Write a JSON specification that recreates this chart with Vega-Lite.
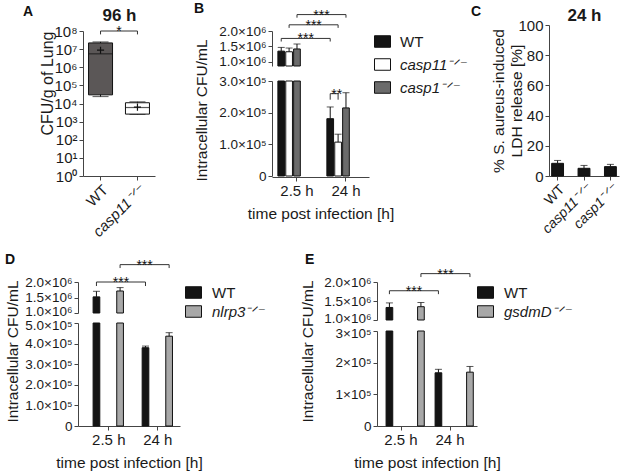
{
  "$schema": "https://vega.github.io/schema/vega-lite/v6.json",
  "padding": {"left": 5, "top": 1, "right": 2, "bottom": 2},
  "config": {
    "font": "Liberation Sans",
    "view": {"stroke": null},
    "axis": {"labelFontSize": 14, "labelColor": "#1a1a1a", "titleFontSize": 15.5, "titleFontWeight": "normal", "titleColor": "#1a1a1a", "domainColor": "#444", "tickColor": "#444", "tickSize": 4, "grid": false, "labelFlush": false, "labelOverlap": false, "labelBound": false, "labelPadding": 2},
    "title": {"fontSize": 14, "fontWeight": "bold", "anchor": "start", "frame": "group", "color": "#111"},
    "legend": {"labelFontSize": 15, "labelColor": "#1a1a1a"}
  },
  "datasets": {
    "boxA": [
      {"g": "WT", "lo": 24000, "q1": 30000, "med": 5500000, "q3": 22000000, "hi": 25000000, "mean": 8700000},
      {"g": "casp11", "lo": 2500, "q1": 2600, "med": 6000, "q3": 11000, "hi": 12400, "mean": 6300}
    ],
    "brkA": [
      {"id": "a", "g": "WT", "y": 65000000, "ord": 0},
      {"id": "a", "g": "WT", "y": 100000000, "ord": 1},
      {"id": "a", "g": "casp11", "y": 100000000, "ord": 2},
      {"id": "a", "g": "casp11", "y": 65000000, "ord": 3}
    ],
    "txtA": [{"g": "WT", "y": 100000000, "label": "*"}],
    "barsB": [
      {"time": "2.5 h", "genotype": "WT", "mean": 1350000, "hi": 1470000},
      {"time": "2.5 h", "genotype": "casp11", "mean": 1330000, "hi": 1450000},
      {"time": "2.5 h", "genotype": "casp1", "mean": 1420000, "hi": 1580000},
      {"time": "24 h", "genotype": "WT", "mean": 181000, "hi": 218000},
      {"time": "24 h", "genotype": "casp11", "mean": 107000, "hi": 132000},
      {"time": "24 h", "genotype": "casp1", "mean": 215000, "hi": 263000}
    ],
    "brkBup": [
      {"id": "b1", "time": "2.5 h", "genotype": "WT", "y": 1660000, "ord": 0},
      {"id": "b1", "time": "2.5 h", "genotype": "WT", "y": 1760000, "ord": 1},
      {"id": "b1", "time": "24 h", "genotype": "WT", "y": 1760000, "ord": 2},
      {"id": "b1", "time": "24 h", "genotype": "WT", "y": 1660000, "ord": 3},
      {"id": "b2", "time": "2.5 h", "genotype": "casp11", "y": 2100000, "ord": 0},
      {"id": "b2", "time": "2.5 h", "genotype": "casp11", "y": 2200000, "ord": 1},
      {"id": "b2", "time": "24 h", "genotype": "casp11", "y": 2200000, "ord": 2},
      {"id": "b2", "time": "24 h", "genotype": "casp11", "y": 2100000, "ord": 3},
      {"id": "b3", "time": "2.5 h", "genotype": "casp1", "y": 2430000, "ord": 0},
      {"id": "b3", "time": "2.5 h", "genotype": "casp1", "y": 2530000, "ord": 1},
      {"id": "b3", "time": "24 h", "genotype": "casp1", "y": 2530000, "ord": 2},
      {"id": "b3", "time": "24 h", "genotype": "casp1", "y": 2430000, "ord": 3}
    ],
    "txtBup": [
      {"time": "2.5 h", "genotype": "WT", "y": 1760000, "label": "***"},
      {"time": "2.5 h", "genotype": "casp11", "y": 2200000, "label": "***"},
      {"time": "2.5 h", "genotype": "casp1", "y": 2530000, "label": "***"}
    ],
    "brkBlo": [
      {"id": "s", "time": "24 h", "genotype": "WT", "y": 241000, "ord": 0},
      {"id": "s", "time": "24 h", "genotype": "WT", "y": 260000, "ord": 1},
      {"id": "s", "time": "24 h", "genotype": "casp11", "y": 260000, "ord": 2},
      {"id": "s", "time": "24 h", "genotype": "casp11", "y": 241000, "ord": 3}
    ],
    "txtBlo": [{"time": "24 h", "genotype": "WT", "y": 260000, "label": "**"}],
    "barsC": [
      {"g": "WT", "mean": 8.4, "hi": 10.3},
      {"g": "casp11", "mean": 5.1, "hi": 7.0},
      {"g": "casp1", "mean": 6.2, "hi": 7.7}
    ],
    "barsD": [
      {"time": "2.5 h", "genotype": "WT", "mean": 1520000, "hi": 1700000},
      {"time": "2.5 h", "genotype": "nlrp3", "mean": 1710000, "hi": 1820000},
      {"time": "24 h", "genotype": "WT", "mean": 380000, "hi": 388000},
      {"time": "24 h", "genotype": "nlrp3", "mean": 436000, "hi": 453000}
    ],
    "brkDup": [
      {"id": "d1", "time": "2.5 h", "genotype": "WT", "y": 1870000, "ord": 0},
      {"id": "d1", "time": "2.5 h", "genotype": "WT", "y": 2000000, "ord": 1},
      {"id": "d1", "time": "24 h", "genotype": "WT", "y": 2000000, "ord": 2},
      {"id": "d1", "time": "24 h", "genotype": "WT", "y": 1870000, "ord": 3},
      {"id": "d2", "time": "2.5 h", "genotype": "nlrp3", "y": 2450000, "ord": 0},
      {"id": "d2", "time": "2.5 h", "genotype": "nlrp3", "y": 2560000, "ord": 1},
      {"id": "d2", "time": "24 h", "genotype": "nlrp3", "y": 2560000, "ord": 2},
      {"id": "d2", "time": "24 h", "genotype": "nlrp3", "y": 2450000, "ord": 3}
    ],
    "txtDup": [
      {"time": "2.5 h", "genotype": "WT", "y": 2000000, "label": "***"},
      {"time": "2.5 h", "genotype": "nlrp3", "y": 2560000, "label": "***"}
    ],
    "barsE": [
      {"time": "2.5 h", "genotype": "WT", "mean": 1330000, "hi": 1450000},
      {"time": "2.5 h", "genotype": "gsdmD", "mean": 1350000, "hi": 1460000},
      {"time": "24 h", "genotype": "WT", "mean": 168000, "hi": 179000},
      {"time": "24 h", "genotype": "gsdmD", "mean": 170000, "hi": 188000}
    ],
    "brkEup": [
      {"id": "e1", "time": "2.5 h", "genotype": "WT", "y": 1680000, "ord": 0},
      {"id": "e1", "time": "2.5 h", "genotype": "WT", "y": 1770000, "ord": 1},
      {"id": "e1", "time": "24 h", "genotype": "WT", "y": 1770000, "ord": 2},
      {"id": "e1", "time": "24 h", "genotype": "WT", "y": 1680000, "ord": 3},
      {"id": "e2", "time": "2.5 h", "genotype": "gsdmD", "y": 2130000, "ord": 0},
      {"id": "e2", "time": "2.5 h", "genotype": "gsdmD", "y": 2220000, "ord": 1},
      {"id": "e2", "time": "24 h", "genotype": "gsdmD", "y": 2220000, "ord": 2},
      {"id": "e2", "time": "24 h", "genotype": "gsdmD", "y": 2130000, "ord": 3}
    ],
    "txtEup": [
      {"time": "2.5 h", "genotype": "WT", "y": 1770000, "label": "***"},
      {"time": "2.5 h", "genotype": "gsdmD", "y": 2220000, "label": "***"}
    ]
  },
  "resolve": {"scale": {"fill": "independent"}, "legend": {"fill": "independent"}},
  "spacing": 12,
  "vconcat": [
    {
      "hconcat": [
        {
          "width": 110, "height": 151,
          "title": {"text": "A", "dx": -55, "dy": 17},
          "data": {"name": "boxA"},
          "resolve": {"axis": {"x": "independent"}},
          "layer": [
            {
              "mark": {"type": "rule", "color": "#111", "strokeWidth": 1},
              "encoding": {
                "x": {"field": "g", "type": "nominal", "sort": ["WT", "casp11"],
                  "scale": {"domain": ["WT", "casp11"], "range": [5, 77], "paddingInner": 0.25, "paddingOuter": 0.1},
                  "axis": {"title": null, "labelAngle": -45, "labelFontSize": 15, "labelExpr": "datum.value == 'WT' ? 'WT' : 'casp11⁻ᐟ⁻'", "labelFontStyle": {"condition": {"test": "datum.value == 'WT'", "value": "normal"}, "value": "italic"}}},
                "y": {"field": "lo", "type": "quantitative",
                  "scale": {"type": "log", "domain": [1, 100000000], "range": [151, 6], "nice": false},
                  "axis": {"offset": -5, "values": [1, 10, 100, 1000, 10000, 100000, 1000000, 10000000, 100000000], "tickCount": 20, "labelFontSize": 15, "labelExpr": "'10' + ['⁰','¹','²','³','⁴','⁵','⁶','⁷','⁸'][round(log(datum.value)/LN10)]", "title": "CFU/g of Lung", "titleFontSize": 16, "titleAnchor": "end", "titleX": -28}},
                "y2": {"field": "hi"}
              }
            },
            {
              "mark": {"type": "tick", "color": "#111", "size": 16, "thickness": 1},
              "encoding": {"x": {"field": "g", "type": "nominal", "axis": null}, "y": {"field": "lo", "type": "quantitative"}}
            },
            {
              "mark": {"type": "tick", "color": "#111", "size": 16, "thickness": 1},
              "encoding": {"x": {"field": "g", "type": "nominal", "axis": null}, "y": {"field": "hi", "type": "quantitative"}}
            },
            {
              "mark": {"type": "bar", "width": 24, "stroke": "#111", "strokeWidth": 1},
              "encoding": {
                "x": {"field": "g", "type": "nominal", "axis": null},
                "y": {"field": "q1", "type": "quantitative"},
                "y2": {"field": "q3"},
                "fill": {"field": "g", "type": "nominal", "scale": {"domain": ["WT", "casp11"], "range": ["#5b5757", "#ffffff"]}, "legend": null}
              }
            },
            {
              "mark": {"type": "tick", "color": "#111", "size": 24, "thickness": 1.2},
              "encoding": {"x": {"field": "g", "type": "nominal", "axis": null}, "y": {"field": "med", "type": "quantitative"}}
            },
            {
              "mark": {"type": "point", "shape": "M-1,0H1M0,-1V1", "size": 50, "filled": false, "stroke": "#111", "strokeWidth": 1.2, "opacity": 1},
              "encoding": {
                "x": {"field": "g", "type": "nominal", "axis": {"orient": "top", "title": "96 h", "labels": false, "ticks": false, "domain": false, "titleFontWeight": "bold", "titleFontSize": 17, "titlePadding": 1}},
                "y": {"field": "mean", "type": "quantitative"}
              }
            },
            {
              "data": {"name": "brkA"},
              "mark": {"type": "line", "color": "#333", "strokeWidth": 1},
              "encoding": {"x": {"field": "g", "type": "nominal", "axis": null}, "y": {"field": "y", "type": "quantitative"}, "detail": {"field": "id"}, "order": {"field": "ord"}}
            },
            {
              "data": {"name": "txtA"},
              "mark": {"type": "text", "dx": 18.5, "dy": 5, "baseline": "alphabetic", "align": "center", "fontSize": 14, "color": "#111"},
              "encoding": {"x": {"field": "g", "type": "nominal", "axis": null}, "y": {"field": "y", "type": "quantitative"}, "text": {"field": "label"}}
            }
          ]
        },
        {
          "width": 193, "height": 152,
          "title": {"text": "B", "dx": -78, "dy": 11},
          "data": {"name": "barsB"},
          "encoding": {
            "x": {"field": "time", "type": "nominal", "scale": {"domain": ["2.5 h", "24 h"], "range": [0, 97], "paddingInner": 0.22, "paddingOuter": 0.1, "align": 0.6},
              "axis": {"title": "time post infection [h]", "labelAngle": 0, "labelFontSize": 15, "titlePadding": 8}},
            "xOffset": {"field": "genotype", "type": "nominal", "scale": {"domain": ["WT", "casp11", "casp1"], "paddingInner": 0.15, "paddingOuter": 0}}
          },
          "resolve": {"scale": {"y": "independent"}, "axis": {"y": "independent"}},
          "layer": [
            {
              "layer": [
                {
                  "transform": [{"filter": "datum.time == '2.5 h'"}],
                  "mark": {"type": "bar", "stroke": "#111", "strokeWidth": 1},
                  "encoding": {
                    "y": {"field": "mean", "type": "quantitative", "stack": null,
                      "scale": {"domain": [870000, 2000000], "range": [41, 6], "zero": false, "nice": false},
                      "axis": {"orient": "left", "values": [1000000, 1500000, 2000000], "tickCount": 20, "labelFontSize": 13.5, "labelExpr": "format(datum.value/1000000, '.1f') + '×10⁶'", "title": null}},
                    "y2": {"datum": 870000},
                    "fill": {"field": "genotype", "type": "nominal", "scale": {"domain": ["WT", "casp11", "casp1"], "range": ["#141414", "#ffffff", "#6b6b6b"]},
                      "legend": {"orient": "none", "legendX": 102, "legendY": 8, "title": null, "symbolType": "M-1,-0.72H1V0.72H-1Z", "symbolSize": 256, "symbolStrokeColor": "#111", "symbolStrokeWidth": 1, "labelFontSize": 15, "labelOffset": 9, "rowPadding": 6,
                        "labelExpr": "datum.value == 'WT' ? 'WT' : datum.value + '⁻ᐟ⁻'",
                        "encode": {"labels": {"update": {"fontStyle": {"signal": "datum.value == 'WT' ? 'normal' : 'italic'"}}}}}}
                  }
                },
                {
                  "transform": [{"filter": "datum.time == '2.5 h'"}],
                  "mark": {"type": "rule", "color": "#111", "strokeWidth": 1},
                  "encoding": {"y": {"field": "mean", "type": "quantitative"}, "y2": {"field": "hi"}}
                },
                {
                  "transform": [{"filter": "datum.time == '2.5 h'"}],
                  "mark": {"type": "tick", "color": "#111", "size": 7, "thickness": 1},
                  "encoding": {"y": {"field": "hi", "type": "quantitative"}}
                },
                {
                  "data": {"name": "brkBup"},
                  "mark": {"type": "line", "color": "#333", "strokeWidth": 1},
                  "encoding": {"y": {"field": "y", "type": "quantitative"}, "detail": {"field": "id"}, "order": {"field": "ord"}}
                },
                {
                  "data": {"name": "txtBup"},
                  "mark": {"type": "text", "dx": 24.5, "dy": 5, "baseline": "alphabetic", "align": "center", "fontSize": 14, "color": "#111"},
                  "encoding": {"y": {"field": "y", "type": "quantitative"}, "text": {"field": "label"}}
                }
              ]
            },
            {
              "layer": [
                {
                  "mark": {"type": "bar", "stroke": "#111", "strokeWidth": 1},
                  "encoding": {
                    "y": {"field": "mean", "type": "quantitative", "stack": null,
                      "scale": {"domain": [0, 300000], "range": [151, 56], "clamp": true, "nice": false},
                      "axis": {"orient": "left", "values": [0, 100000, 200000, 300000], "tickCount": 20, "labelFontSize": 13.5, "labelExpr": "datum.value == 0 ? '0' : format(datum.value/100000, '.1f') + '×10⁵'", "title": "Intracellular CFU/mL", "titleY": 85, "titleX": -63}},
                    "fill": {"field": "genotype", "type": "nominal"}
                  }
                },
                {
                  "transform": [{"filter": "datum.time == '24 h'"}],
                  "mark": {"type": "rule", "color": "#111", "strokeWidth": 1},
                  "encoding": {"y": {"field": "mean", "type": "quantitative"}, "y2": {"field": "hi"}}
                },
                {
                  "transform": [{"filter": "datum.time == '24 h'"}],
                  "mark": {"type": "tick", "color": "#111", "size": 7, "thickness": 1},
                  "encoding": {"y": {"field": "hi", "type": "quantitative"}}
                },
                {
                  "data": {"name": "brkBlo"},
                  "mark": {"type": "line", "color": "#333", "strokeWidth": 1},
                  "encoding": {"y": {"field": "y", "type": "quantitative"}, "detail": {"field": "id"}, "order": {"field": "ord"}}
                },
                {
                  "data": {"name": "txtBlo"},
                  "mark": {"type": "text", "dx": 6.6, "dy": 5, "baseline": "alphabetic", "align": "center", "fontSize": 14, "color": "#111"},
                  "encoding": {"y": {"field": "y", "type": "quantitative"}, "text": {"field": "label"}}
                }
              ]
            }
          ]
        },
        {
          "width": 70, "height": 151,
          "title": {"text": "C", "dx": -78, "dy": 17},
          "data": {"name": "barsC"},
          "resolve": {"axis": {"x": "independent"}},
          "layer": [
            {
              "mark": {"type": "bar", "fill": "#141414", "stroke": "#111", "strokeWidth": 1},
              "encoding": {
                "x": {"field": "g", "type": "nominal", "sort": ["WT", "casp11", "casp1"],
                  "scale": {"domain": ["WT", "casp11", "casp1"], "paddingInner": 0.55, "paddingOuter": 0.1},
                  "axis": {"title": null, "labelAngle": -45, "labelFontSize": 14, "labelExpr": "datum.value == 'WT' ? 'WT' : datum.value + '⁻ᐟ⁻'", "labelFontStyle": {"condition": {"test": "datum.value == 'WT'", "value": "normal"}, "value": "italic"}}},
                "y": {"field": "mean", "type": "quantitative",
                  "scale": {"domain": [0, 100], "nice": false},
                  "axis": {"values": [0, 20, 40, 60, 80, 100], "tickCount": 20, "labelFontSize": 15, "title": ["% S. aureus-induced", "LDH release [%]"], "titleFontSize": 15.5, "titleX": -43, "titleLineHeight": 18}}
              }
            },
            {
              "mark": {"type": "rule", "color": "#111", "strokeWidth": 1},
              "encoding": {
                "x": {"field": "g", "type": "nominal", "axis": {"orient": "top", "title": "24 h", "labels": false, "ticks": false, "domain": false, "titleFontWeight": "bold", "titleFontSize": 17, "titlePadding": 1}},
                "y": {"field": "mean", "type": "quantitative"},
                "y2": {"field": "hi"}
              }
            },
            {
              "mark": {"type": "tick", "color": "#111", "size": 7, "thickness": 1},
              "encoding": {"x": {"field": "g", "type": "nominal", "axis": null}, "y": {"field": "hi", "type": "quantitative"}}
            }
          ]
        }
      ],
      "spacing": 84,
      "bounds": "flush",
      "resolve": {"scale": {"fill": "independent"}, "legend": {"fill": "independent"}}
    },
    {
      "hconcat": [
        {
          "width": 102, "height": 144,
          "title": {"text": "D", "dx": -73, "dy": 12},
          "data": {"name": "barsD"},
          "encoding": {
            "x": {"field": "time", "type": "nominal", "scale": {"domain": ["2.5 h", "24 h"], "paddingInner": 0.36, "paddingOuter": 0.22, "align": 0.7},
              "axis": {"title": "time post infection [h]", "labelAngle": 0, "labelFontSize": 15, "titlePadding": 8}},
            "xOffset": {"field": "genotype", "type": "nominal", "scale": {"domain": ["WT", "nlrp3"], "paddingInner": 0.3, "paddingOuter": 0}}
          },
          "resolve": {"scale": {"y": "independent"}, "axis": {"y": "independent"}},
          "layer": [
            {
              "layer": [
                {
                  "transform": [{"filter": "datum.time == '2.5 h'"}],
                  "mark": {"type": "bar", "stroke": "#111", "strokeWidth": 1},
                  "encoding": {
                    "y": {"field": "mean", "type": "quantitative", "stack": null,
                      "scale": {"domain": [1000000, 2000000], "range": [31, 0], "zero": false, "nice": false},
                      "axis": {"orient": "left", "values": [1000000, 1500000, 2000000], "tickCount": 20, "labelFontSize": 13.5, "labelOffset": {"condition": {"test": "datum.value == 1000000", "value": -2}, "value": 0}, "labelExpr": "format(datum.value/1000000, '.1f') + '×10⁶'", "title": null}},
                    "y2": {"datum": 1000000},
                    "fill": {"field": "genotype", "type": "nominal", "scale": {"domain": ["WT", "nlrp3"], "range": ["#141414", "#a8a8a8"]},
                      "legend": {"orient": "none", "legendX": 107, "legendY": 2, "title": null, "symbolType": "M-1,-0.72H1V0.72H-1Z", "symbolSize": 256, "symbolStrokeColor": "#111", "symbolStrokeWidth": 1, "labelFontSize": 15, "labelOffset": 10, "rowPadding": 2,
                        "labelExpr": "datum.value == 'WT' ? 'WT' : datum.value + '⁻ᐟ⁻'",
                        "encode": {"labels": {"update": {"fontStyle": {"signal": "datum.value == 'WT' ? 'normal' : 'italic'"}}}}}}
                  }
                },
                {
                  "transform": [{"filter": "datum.time == '2.5 h'"}],
                  "mark": {"type": "rule", "color": "#111", "strokeWidth": 1},
                  "encoding": {"y": {"field": "mean", "type": "quantitative"}, "y2": {"field": "hi"}}
                },
                {
                  "transform": [{"filter": "datum.time == '2.5 h'"}],
                  "mark": {"type": "tick", "color": "#111", "size": 7, "thickness": 1},
                  "encoding": {"y": {"field": "hi", "type": "quantitative"}}
                },
                {
                  "data": {"name": "brkDup"},
                  "mark": {"type": "line", "color": "#333", "strokeWidth": 1},
                  "encoding": {"y": {"field": "y", "type": "quantitative"}, "detail": {"field": "id"}, "order": {"field": "ord"}}
                },
                {
                  "data": {"name": "txtDup"},
                  "mark": {"type": "text", "dx": 24.5, "dy": 5, "baseline": "alphabetic", "align": "center", "fontSize": 14, "color": "#111"},
                  "encoding": {"y": {"field": "y", "type": "quantitative"}, "text": {"field": "label"}}
                }
              ]
            },
            {
              "layer": [
                {
                  "mark": {"type": "bar", "stroke": "#111", "strokeWidth": 1},
                  "encoding": {
                    "y": {"field": "mean", "type": "quantitative", "stack": null,
                      "scale": {"domain": [0, 500000], "range": [144, 41], "clamp": true, "nice": false},
                      "axis": {"orient": "left", "values": [0, 100000, 200000, 300000, 400000, 500000], "tickCount": 20, "labelFontSize": 13.5, "labelOffset": {"condition": {"test": "datum.value == 500000", "value": 2}, "value": 0}, "labelExpr": "datum.value == 0 ? '0' : format(datum.value/100000, '.1f') + '×10⁵'", "title": "Intracellular CFU/mL", "titleY": 69, "titleX": -58}},
                    "fill": {"field": "genotype", "type": "nominal"}
                  }
                },
                {
                  "transform": [{"filter": "datum.time == '24 h'"}],
                  "mark": {"type": "rule", "color": "#111", "strokeWidth": 1},
                  "encoding": {"y": {"field": "mean", "type": "quantitative"}, "y2": {"field": "hi"}}
                },
                {
                  "transform": [{"filter": "datum.time == '24 h'"}],
                  "mark": {"type": "tick", "color": "#111", "size": 7, "thickness": 1},
                  "encoding": {"y": {"field": "hi", "type": "quantitative"}}
                }
              ]
            }
          ]
        },
        {
          "width": 100, "height": 144,
          "title": {"text": "E", "dx": -72, "dy": 3},
          "data": {"name": "barsE"},
          "encoding": {
            "x": {"field": "time", "type": "nominal", "scale": {"domain": ["2.5 h", "24 h"], "paddingInner": 0.39, "paddingOuter": 0.215, "align": 0.43},
              "axis": {"title": "time post infection [h]", "labelAngle": 0, "labelFontSize": 15, "titlePadding": 8}},
            "xOffset": {"field": "genotype", "type": "nominal", "scale": {"domain": ["WT", "gsdmD"], "paddingInner": 0.3, "paddingOuter": 0}}
          },
          "resolve": {"scale": {"y": "independent"}, "axis": {"y": "independent"}},
          "layer": [
            {
              "layer": [
                {
                  "transform": [{"filter": "datum.time == '2.5 h'"}],
                  "mark": {"type": "bar", "stroke": "#111", "strokeWidth": 1},
                  "encoding": {
                    "y": {"field": "mean", "type": "quantitative", "stack": null,
                      "scale": {"domain": [1000000, 2000000], "range": [38, 0], "zero": false, "nice": false},
                      "axis": {"orient": "left", "values": [1000000, 1500000, 2000000], "tickCount": 20, "labelFontSize": 13.5, "labelOffset": {"condition": {"test": "datum.value == 1000000", "value": -2}, "value": 0}, "labelExpr": "format(datum.value/1000000, '.1f') + '×10⁶'", "title": null}},
                    "y2": {"datum": 1000000},
                    "fill": {"field": "genotype", "type": "nominal", "scale": {"domain": ["WT", "gsdmD"], "range": ["#141414", "#a8a8a8"]},
                      "legend": {"orient": "none", "legendX": 100, "legendY": 2, "title": null, "symbolType": "M-1,-0.72H1V0.72H-1Z", "symbolSize": 256, "symbolStrokeColor": "#111", "symbolStrokeWidth": 1, "labelFontSize": 15, "labelOffset": 10, "rowPadding": 2,
                        "labelExpr": "datum.value == 'WT' ? 'WT' : datum.value + '⁻ᐟ⁻'",
                        "encode": {"labels": {"update": {"fontStyle": {"signal": "datum.value == 'WT' ? 'normal' : 'italic'"}}}}}}
                  }
                },
                {
                  "transform": [{"filter": "datum.time == '2.5 h'"}],
                  "mark": {"type": "rule", "color": "#111", "strokeWidth": 1},
                  "encoding": {"y": {"field": "mean", "type": "quantitative"}, "y2": {"field": "hi"}}
                },
                {
                  "transform": [{"filter": "datum.time == '2.5 h'"}],
                  "mark": {"type": "tick", "color": "#111", "size": 7, "thickness": 1},
                  "encoding": {"y": {"field": "hi", "type": "quantitative"}}
                },
                {
                  "data": {"name": "brkEup"},
                  "mark": {"type": "line", "color": "#333", "strokeWidth": 1},
                  "encoding": {"y": {"field": "y", "type": "quantitative"}, "detail": {"field": "id"}, "order": {"field": "ord"}}
                },
                {
                  "data": {"name": "txtEup"},
                  "mark": {"type": "text", "dx": 24.5, "dy": 5, "baseline": "alphabetic", "align": "center", "fontSize": 14, "color": "#111"},
                  "encoding": {"y": {"field": "y", "type": "quantitative"}, "text": {"field": "label"}}
                }
              ]
            },
            {
              "layer": [
                {
                  "mark": {"type": "bar", "stroke": "#111", "strokeWidth": 1},
                  "encoding": {
                    "y": {"field": "mean", "type": "quantitative", "stack": null,
                      "scale": {"domain": [0, 300000], "range": [144, 49], "clamp": true, "nice": false},
                      "axis": {"orient": "left", "values": [0, 100000, 200000, 300000], "tickCount": 20, "labelFontSize": 13.5, "labelOffset": {"condition": {"test": "datum.value == 300000", "value": 2}, "value": 0}, "labelExpr": "datum.value == 0 ? '0' : format(datum.value/100000, '.0f') + '×10⁵'", "title": "Intracellular CFU/mL", "titleY": 69, "titleX": -62}},
                    "fill": {"field": "genotype", "type": "nominal"}
                  }
                },
                {
                  "transform": [{"filter": "datum.time == '24 h'"}],
                  "mark": {"type": "rule", "color": "#111", "strokeWidth": 1},
                  "encoding": {"y": {"field": "mean", "type": "quantitative"}, "y2": {"field": "hi"}}
                },
                {
                  "transform": [{"filter": "datum.time == '24 h'"}],
                  "mark": {"type": "tick", "color": "#111", "size": 7, "thickness": 1},
                  "encoding": {"y": {"field": "hi", "type": "quantitative"}}
                }
              ]
            }
          ]
        }
      ],
      "spacing": 197,
      "bounds": "flush",
      "resolve": {"scale": {"fill": "independent"}, "legend": {"fill": "independent"}}
    }
  ]
}
